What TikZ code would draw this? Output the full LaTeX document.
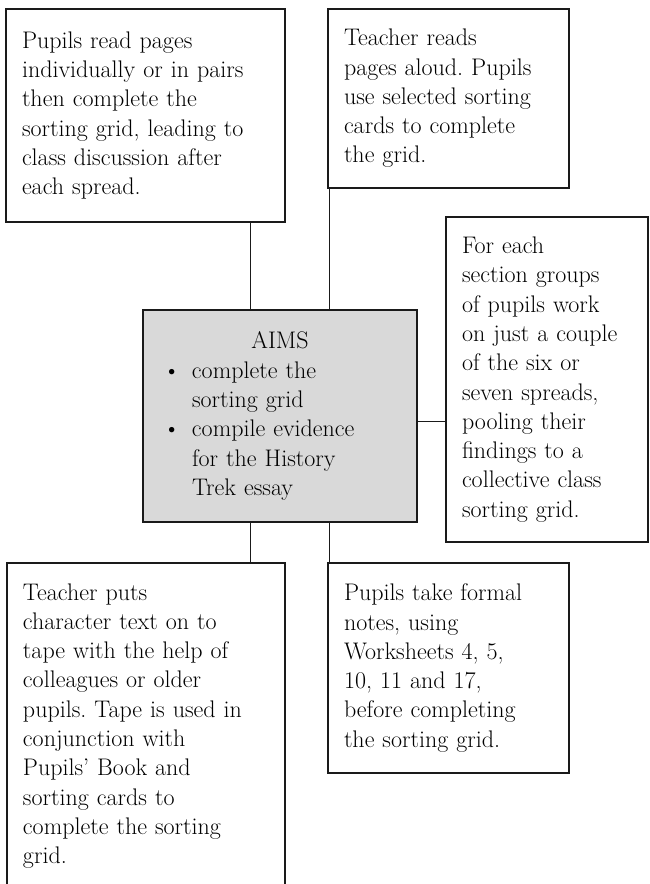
\documentclass[tikz,border=0pt]{standalone}
\usetikzlibrary{positioning}
\definecolor{cink}{HTML}{1A1A1A}
\definecolor{cgrey}{HTML}{D9D9D9}
\tikzset{
  card/.style={draw=cink, line width=1.4pt, outer sep=0pt, anchor=north west, align=left,
    inner xsep=16pt, inner ysep=0pt, font=\fontsize{24}{29.3}\selectfont\frenchspacing},
  aimsbox/.style={card, fill=cgrey, align=center},
  link/.style={draw=cink, line width=1pt},
}
\newcommand{\aimline}[2]{\makebox[242pt][l]{\makebox[33pt][l]{\hspace{4pt}#1}#2}}

\begin{document}
\begin{tikzpicture}[x=1pt, y=-1pt]
  \clip (0,0) rectangle (649,884);
  \node[card, minimum width=279pt, text width=247pt, minimum height=213pt] (read) at (6,9)
    {Pupils read pages\\individually or in pairs\\then complete the\\sorting grid, leading to\\class discussion after\\each spread.};
  \node[card, minimum width=241pt, text width=209pt, minimum height=179pt] (aloud) at (328,9)
    {Teacher reads\\pages aloud. Pupils\\use selected sorting\\cards to complete\\the grid.};
  \node[card, minimum width=202pt, text width=170pt, minimum height=325pt] (groups) at (446,217)
    {For each\\section groups\\of pupils work\\on just a couple\\of the six or\\seven spreads,\\pooling their\\findings to a\\collective class\\sorting grid.};
  \node[aimsbox, minimum width=274pt, text width=242pt, minimum height=212pt] (aims) at (143,310)
    {AIMS\\\aimline{\textbullet}{complete the}\\\aimline{}{sorting grid}\\\aimline{\textbullet}{compile evidence}\\\aimline{}{for the History}\\\aimline{}{Trek essay}};
  \node[card, minimum width=278pt, text width=246pt, minimum height=326pt] (tape) at (7,563)
    {Teacher puts\\character text on to\\tape with the help of\\colleagues or older\\pupils. Tape is used in\\conjunction with\\Pupils’ Book and\\sorting cards to\\complete the sorting\\grid.};
  \node[card, minimum width=241pt, text width=209pt, minimum height=210pt] (notes) at (328,563)
    {Pupils take formal\\notes, using\\Worksheets 4, 5,\\10, 11 and 17,\\before completing\\the sorting grid.};
  \coordinate (lx) at (250,0);
  \coordinate (rx) at (329.5,0);
  \coordinate (my) at (0,421);
  \draw[link] (read.south -| lx) -- (aims.north -| lx);
  \draw[link] (aloud.south -| rx) -- (aims.north -| rx);
  \draw[link] (aims.east |- my) -- (groups.west |- my);
  \draw[link] (aims.south -| lx) -- (tape.north -| lx);
  \draw[link] (aims.south -| rx) -- (notes.north -| rx);
\end{tikzpicture}
\end{document}
